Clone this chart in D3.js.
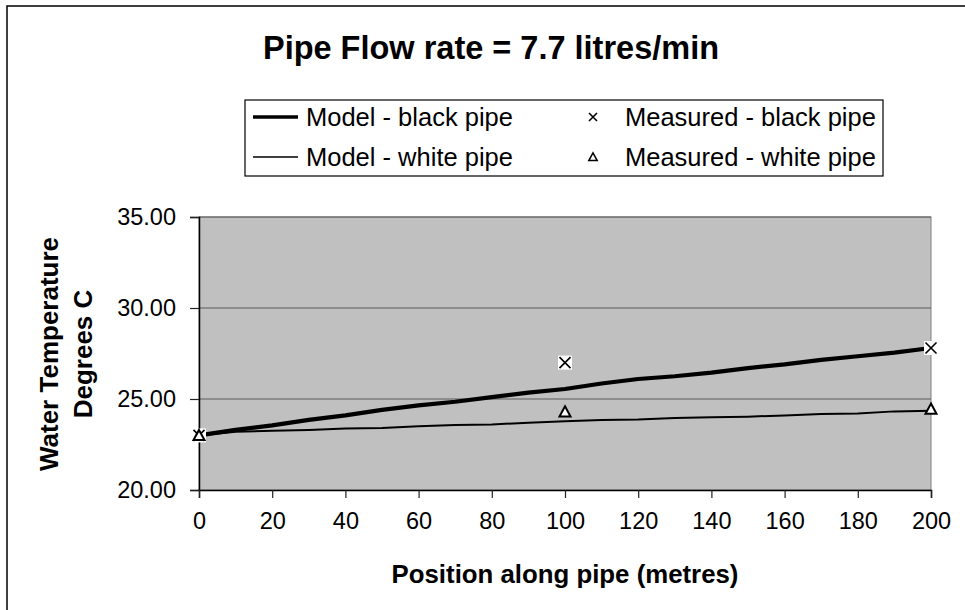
<!DOCTYPE html>
<html>
<head>
<meta charset="utf-8">
<script src="https://cdn.jsdelivr.net/npm/d3@7"></script>
<style>
  html, body { margin: 0; padding: 0; background: #fff; }
  svg { display: block; font-family: "Liberation Sans", Arial, Helvetica, sans-serif; }
</style>
</head>
<body>
<svg id="chart" width="965" height="610"></svg>
<script>
// Positions along the pipe (m)
const positions = [0, 10, 20, 30, 40, 50, 60, 70, 80, 90, 100, 110, 120, 130, 140, 150, 160, 170, 180, 190, 200];
// Modelled water temperature (deg C)
const modelBlack = [23.0, 23.3, 23.55, 23.85, 24.1, 24.4, 24.65, 24.85, 25.1, 25.35, 25.55, 25.85, 26.1, 26.25, 26.45, 26.7, 26.9, 27.15, 27.35, 27.55, 27.8];
const modelWhite = [23.0, 23.2, 23.25, 23.3, 23.38, 23.4, 23.5, 23.57, 23.6, 23.7, 23.78, 23.85, 23.87, 23.95, 24.0, 24.03, 24.1, 24.17, 24.2, 24.32, 24.35];
// Measured temperatures
const measuredPos = [0, 100, 200];
const measuredBlack = [23.0, 27.0, 27.8];
const measuredWhite = [23.0, 24.3, 24.45];
// Axis ticks
const xTicks = [0, 20, 40, 60, 80, 100, 120, 140, 160, 180, 200];
const yTicks = [20, 25, 30, 35];

const svg = d3.select("#chart");
const plot = { left: 199, right: 931, top: 217, bottom: 490 };

// Outer chart frame
svg.append("rect").attr("x", 7).attr("y", 6).attr("width", 970).attr("height", 620)
  .attr("fill", "#fff").attr("stroke", "#000").attr("stroke-width", 1.5);

const x = d3.scaleLinear().domain([0, 200]).range([plot.left, plot.right]);
const y = d3.scaleLinear().domain([20, 35]).range([plot.bottom, plot.top]);

// Title
svg.append("text").attr("x", 491).attr("y", 59).attr("text-anchor", "middle")
  .attr("font-size", 32.5).attr("font-weight", "bold").text("Pipe Flow rate = 7.7 litres/min");

// Plot background
svg.append("rect").attr("x", plot.left).attr("y", plot.top)
  .attr("width", plot.right - plot.left).attr("height", plot.bottom - plot.top)
  .attr("fill", "#c0c0c0").attr("stroke", "#808080").attr("stroke-width", 1);

// Horizontal gridlines
svg.append("g").selectAll("line").data(yTicks.filter(d => d > 20)).join("line")
  .attr("x1", plot.left).attr("x2", plot.right)
  .attr("y1", d => y(d)).attr("y2", d => y(d))
  .attr("stroke", "#5a5a5a").attr("stroke-width", 1.2);

// Axes
const yAxis = svg.append("g").attr("transform", `translate(${plot.left},0)`)
  .call(d3.axisLeft(y).tickValues(yTicks).tickSize(9).tickPadding(14).tickFormat(d3.format(".2f")));
const xAxis = svg.append("g").attr("transform", `translate(0,${plot.bottom})`)
  .call(d3.axisBottom(x).tickValues(xTicks).tickSize(8).tickPadding(14));
[yAxis, xAxis].forEach(g => {
  g.select(".domain").attr("stroke", "#000").attr("stroke-width", 1.5);
  g.selectAll(".tick line").attr("stroke", "#222").attr("stroke-width", 1.2);
  g.selectAll(".tick text").attr("font-size", 23.5).attr("fill", "#000")
    .attr("font-family", "'Liberation Sans', Arial, sans-serif");
});

// Axis titles
svg.append("text").attr("x", 565).attr("y", 583).attr("text-anchor", "middle")
  .attr("font-size", 25.8).attr("font-weight", "bold").text("Position along pipe (metres)");
const yt = svg.append("text").attr("transform", "translate(0,354) rotate(-90)")
  .attr("text-anchor", "middle").attr("font-size", 26).attr("font-weight", "bold");
yt.append("tspan").attr("x", 0).attr("y", 58).text("Water Temperature");
yt.append("tspan").attr("x", 0).attr("y", 92).text("Degrees C");

// Model lines
const line = d3.line().x((d, i) => x(positions[i])).y(d => y(d));
svg.append("path").datum(modelWhite).attr("d", line)
  .attr("fill", "none").attr("stroke", "#000").attr("stroke-width", 2);
svg.append("path").datum(modelBlack).attr("d", line)
  .attr("fill", "none").attr("stroke", "#000").attr("stroke-width", 4.2).attr("stroke-linejoin", "round");

// Marker helpers
function crossMarker(g, cx, cy, s, box) {
  if (box) g.append("rect").attr("x", cx - box / 2).attr("y", cy - box / 2)
    .attr("width", box).attr("height", box).attr("fill", "#fff");
  g.append("path").attr("d", `M${cx - s},${cy - s}L${cx + s},${cy + s}M${cx - s},${cy + s}L${cx + s},${cy - s}`)
    .attr("stroke", "#000").attr("stroke-width", 1.6).attr("fill", "none");
}
function triMarker(g, cx, cy, s, sw) {
  g.append("path").attr("d", `M${cx},${cy - s}L${cx + s},${cy + s * 0.85}L${cx - s},${cy + s * 0.85}Z`)
    .attr("stroke", "#000").attr("stroke-width", sw).attr("fill", "#fff").attr("stroke-linejoin", "miter");
}

// Measured points
const mk = svg.append("g");
measuredPos.forEach((p, i) => crossMarker(mk, x(p), y(measuredBlack[i]), 5.5, 14));
measuredPos.forEach((p, i) => triMarker(mk, x(p), y(measuredWhite[i]), 5.5, 2));

// Legend
const lg = svg.append("g");
lg.append("rect").attr("x", 245).attr("y", 100).attr("width", 638).attr("height", 76)
  .attr("fill", "#fff").attr("stroke", "#000").attr("stroke-width", 1.2);
const rows = [117, 157];
lg.append("line").attr("x1", 253).attr("x2", 298).attr("y1", rows[0]).attr("y2", rows[0])
  .attr("stroke", "#000").attr("stroke-width", 3.5);
lg.append("line").attr("x1", 253).attr("x2", 298).attr("y1", rows[1]).attr("y2", rows[1])
  .attr("stroke", "#000").attr("stroke-width", 1.5);
crossMarker(lg, 593, rows[0], 4, 0);
triMarker(lg, 593, rows[1], 4.2, 1.5);
const labels = [["Model - black pipe", 306, rows[0]], ["Model - white pipe", 306, rows[1]],
                ["Measured - black pipe", 625, rows[0]], ["Measured - white pipe", 625, rows[1]]];
lg.selectAll("text.lab").data(labels).join("text").attr("class", "lab")
  .attr("x", d => d[1]).attr("y", d => d[2] + 9).attr("font-size", 25.5).text(d => d[0]);
</script>
</body>
</html>
